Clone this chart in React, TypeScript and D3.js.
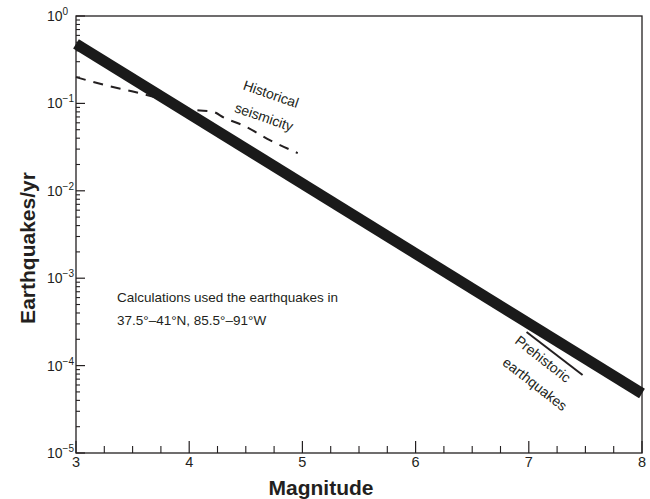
import React from "react";
import * as d3 from "d3";

// ---- data ----
const xTickValues = [3, 4, 5, 6, 7, 8];
const yExponents = [0, -1, -2, -3, -4, -5];

// Gutenberg-Richter fit (thick line)
const grMag = [3, 8];
const grRate = [0.48, 4.8e-5];

// Historical seismicity (dashed)
const histMag = [3.0, 3.256, 3.521, 3.786, 4.05, 4.2, 4.315, 4.49, 4.712, 4.959];
const histRate = [0.2, 0.162, 0.135, 0.109, 0.084, 0.081, 0.068, 0.055, 0.038, 0.027];

// Prehistoric earthquakes (thin line)
const preMag = [6.98, 7.475];
const preRate = [2.42e-4, 7.8e-5];

const annotationLines = ["Calculations used the earthquakes in", "37.5°–41°N, 85.5°–91°W"];

const W = 650;
const H = 499;
const FONT = "'Liberation Sans', Arial, Helvetica, sans-serif";
const INK = "#231f20";

export default function App() {
  const x = d3.scaleLinear().domain([3, 8]).range([76, 642]);
  const y = d3.scaleLog().domain([1e-5, 1]).range([453, 16]);

  const line = d3
    .line<[number, number]>()
    .x((d) => x(d[0]))
    .y((d) => y(d[1]));
  const smooth = d3
    .line<[number, number]>()
    .x((d) => x(d[0]))
    .y((d) => y(d[1]))
    .curve(d3.curveMonotoneX);

  const grPts = grMag.map((m, i) => [m, grRate[i]] as [number, number]);
  const histPts = histMag.map((m, i) => [m, histRate[i]] as [number, number]);
  const prePts = preMag.map((m, i) => [m, preRate[i]] as [number, number]);

  const xMinor = d3.range(3.25, 8, 0.25).filter((v) => Math.abs(v - Math.round(v)) > 1e-6);
  const yMinor: number[] = [];
  for (let k = -5; k < 0; k++) for (let m = 2; m <= 9; m++) yMinor.push(m * Math.pow(10, k));

  const [x0, x1] = x.range();
  const [yb, yt] = y.range();

  return (
    <svg
      width={W}
      height={H}
      style={{ position: "absolute", left: 0, top: 0, background: "#fff" }}
      fontFamily={FONT}
    >
      {/* frame */}
      <rect x={x0} y={yt} width={x1 - x0} height={yb - yt} fill="none" stroke={INK} strokeWidth={1.3} />

      {/* x ticks */}
      {xTickValues.map((v) => (
        <line key={"xt" + v} x1={x(v)} x2={x(v)} y1={yb} y2={yb - 12} stroke={INK} strokeWidth={1.2} />
      ))}
      {xMinor.map((v) => (
        <line key={"xm" + v} x1={x(v)} x2={x(v)} y1={yb} y2={yb - 7} stroke={INK} strokeWidth={1.1} />
      ))}
      {xTickValues.map((v) => (
        <text key={"xl" + v} x={x(v)} y={467} fontSize={14.5} textAnchor="middle" fill={INK}>
          {v}
        </text>
      ))}

      {/* y ticks */}
      {yExponents.map((e) => (
        <line key={"yt" + e} x1={x0} x2={x0 + 9} y1={y(Math.pow(10, e))} y2={y(Math.pow(10, e))} stroke={INK} strokeWidth={1.2} />
      ))}
      {yMinor.map((v, i) => (
        <line key={"ym" + i} x1={x0} x2={x0 + 4} y1={y(v)} y2={y(v)} stroke={INK} strokeWidth={1.1} />
      ))}
      {yExponents.map((e) => (
        <text key={"yl" + e} x={47} y={y(Math.pow(10, e)) + 5} fontSize={14} fill={INK}>
          10
          <tspan fontSize={10} dy={-6}>
            {e === 0 ? "0" : "−" + Math.abs(e)}
          </tspan>
        </text>
      ))}

      {/* historical seismicity dashed */}
      <path d={smooth(histPts) || ""} fill="none" stroke={INK} strokeWidth={2} strokeDasharray="10 8" />

      {/* thick fit line */}
      <path d={line(grPts) || ""} fill="none" stroke="#1a1a1a" strokeWidth={11} strokeLinecap="butt" />

      {/* prehistoric */}
      <path d={line(prePts) || ""} fill="none" stroke={INK} strokeWidth={2} />

      {/* labels */}
      <g fontSize={14} fill={INK} textAnchor="middle">
        <text transform="translate(271,94) rotate(19)" dy="0.35em">Historical</text>
        <text transform="translate(264,117) rotate(19)" dy="0.35em">seismicity</text>
        <text transform="translate(543,359) rotate(38)" dy="0.35em">Prehistoric</text>
        <text transform="translate(535,384) rotate(38)" dy="0.35em">earthquakes</text>
      </g>

      <g fontSize={13.5} fill={INK}>
        <text x={117} y={302} textLength={221} lengthAdjust="spacing">{annotationLines[0]}</text>
        <text x={117} y={325}>{annotationLines[1]}</text>
      </g>

      {/* axis titles */}
      <text x={321} y={495} fontSize={21} fontWeight="bold" textAnchor="middle" fill={INK}>
        Magnitude
      </text>
      <text transform="translate(35,248) rotate(-90)" fontSize={21} fontWeight="bold" textAnchor="middle" fill={INK}>
        Earthquakes/yr
      </text>
    </svg>
  );
}
